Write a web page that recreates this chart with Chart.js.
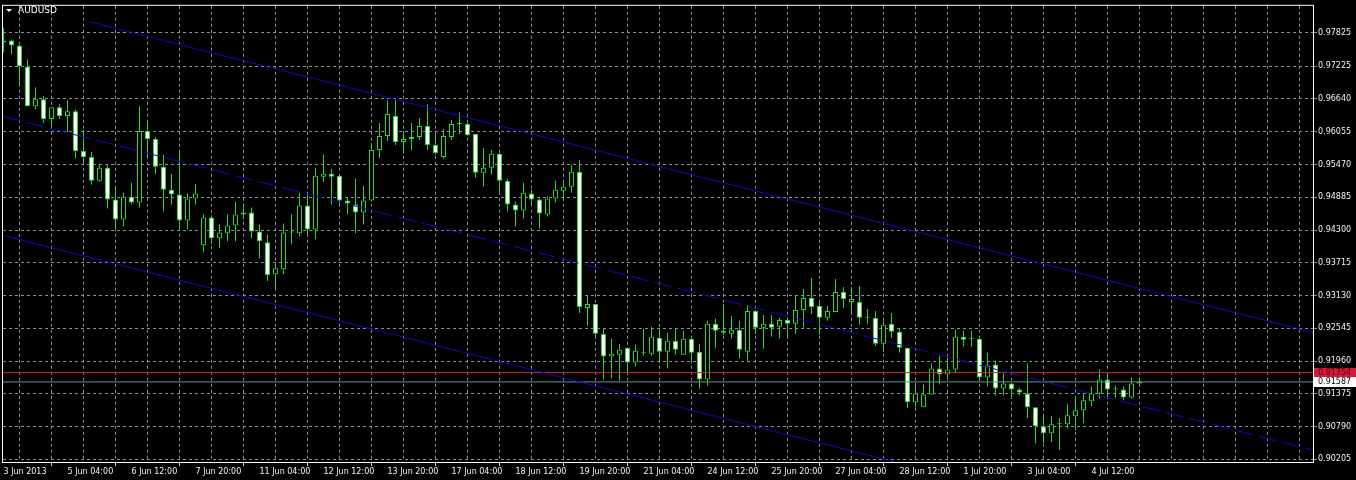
<!DOCTYPE html>
<html>
<head>
<meta charset="utf-8">
<title>AUDUSD H4</title>
<script src="https://cdn.jsdelivr.net/npm/chart.js@4.4.1/dist/chart.umd.min.js"></script>
<style>
  html, body { margin: 0; padding: 0; background: #000; }
  #wrap { width: 1356px; height: 480px; position: relative; }
</style>
</head>
<body>
<div id="wrap"><canvas id="chart" aria-label="AUDUSD H4 candlestick chart"></canvas></div>
<script>
'use strict';

// ─────────────────────────────────────────────────────────────
// 1. Data  (AUDUSD, H4 bars, 3 Jun 2013 20:00 → 5 Jul 2013 12:00)
// ─────────────────────────────────────────────────────────────

const SYMBOL = 'AUDUSD';

const opens = [
  0.97683, 0.97683, 0.97594, 0.97222, 0.96512, 0.96636, 0.96281, 0.96494, 0.96334, 0.96423,
  0.95713, 0.95606, 0.95180, 0.95411, 0.94843, 0.94488, 0.94896, 0.94790, 0.96070, 0.95926,
  0.95429, 0.95021, 0.94932, 0.94470, 0.94861, 0.94027, 0.94524, 0.94151, 0.94240, 0.94382,
  0.94577, 0.94612, 0.94275, 0.94080, 0.93512, 0.93600, 0.94257, 0.94240, 0.94737, 0.94311,
  0.95251, 0.95305, 0.95269, 0.94825, 0.94754, 0.94612, 0.94825, 0.95731, 0.95979, 0.96334,
  0.95873, 0.95926, 0.95961, 0.96157, 0.95819, 0.95606, 0.95961, 0.96192, 0.96192, 0.96015,
  0.95322, 0.95411, 0.95660, 0.95180, 0.94754, 0.94648, 0.94950, 0.94843, 0.94577, 0.94861,
  0.95003, 0.95074, 0.95340, 0.92908, 0.92979, 0.92447, 0.92039, 0.92074, 0.92198, 0.91932,
  0.92110, 0.92092, 0.92376, 0.92127, 0.92323, 0.92074, 0.92358, 0.92127, 0.91630, 0.92624,
  0.92500, 0.92447, 0.92518, 0.92127, 0.92855, 0.92553, 0.92624, 0.92571, 0.92695, 0.92624,
  0.92873, 0.93086, 0.92944, 0.92731, 0.92837, 0.93192, 0.93015, 0.93015, 0.92731, 0.92731,
  0.92269, 0.92624, 0.92482, 0.92198, 0.91222, 0.91133, 0.91364, 0.91826, 0.91719, 0.91808,
  0.92394, 0.92358, 0.92358, 0.91666, 0.91897, 0.91471, 0.91559, 0.91453, 0.91382, 0.91133,
  0.90796, 0.90672, 0.90832, 0.90832, 0.90974, 0.91080, 0.91240, 0.91382, 0.91630, 0.91453,
  0.91453, 0.91311, 0.91559,
];

const highs = [
  0.97914, 0.97701, 0.97594, 0.97346, 0.96849, 0.96689, 0.96494, 0.96547, 0.96618, 0.96458,
  0.96088, 0.95695, 0.95464, 0.95464, 0.95056, 0.94967, 0.95145, 0.96512, 0.96228, 0.95961,
  0.95642, 0.95305, 0.95731, 0.94950, 0.95127, 0.94577, 0.94559, 0.94399, 0.94577, 0.94808,
  0.94772, 0.94701, 0.94399, 0.94222, 0.93707, 0.94417, 0.94577, 0.94967, 0.94950, 0.95411,
  0.95642, 0.95393, 0.95287, 0.94896, 0.95216, 0.95092, 0.95855, 0.96210, 0.96618, 0.96618,
  0.96070, 0.96210, 0.96298, 0.96547, 0.96015, 0.96106, 0.96263, 0.96405, 0.96210, 0.96015,
  0.95766, 0.95731, 0.95677, 0.95216, 0.94808, 0.95145, 0.95021, 0.94896, 0.94896, 0.95180,
  0.95145, 0.95464, 0.95553, 0.93139, 0.92979, 0.92536, 0.92358, 0.92269, 0.92198, 0.92252,
  0.92536, 0.92571, 0.92553, 0.92465, 0.92553, 0.92500, 0.92411, 0.92269, 0.92678, 0.92713,
  0.92979, 0.92766, 0.92678, 0.92961, 0.92873, 0.92784, 0.92784, 0.92731, 0.92731, 0.93121,
  0.93245, 0.93441, 0.92997, 0.92944, 0.93423, 0.93281, 0.93281, 0.93299, 0.92890, 0.92855,
  0.92678, 0.92819, 0.92553, 0.92198, 0.91577, 0.91542, 0.91914, 0.92056, 0.92021, 0.92518,
  0.92500, 0.92500, 0.92411, 0.92110, 0.91968, 0.91737, 0.91559, 0.91488, 0.91914, 0.91133,
  0.90991, 0.90974, 0.90938, 0.91187, 0.91311, 0.91382, 0.91506, 0.91808, 0.91737, 0.91524,
  0.91506, 0.91666, 0.91666,
];

const lows = [
  0.97470, 0.97435, 0.96884, 0.96512, 0.96458, 0.96210, 0.96106, 0.96281, 0.96050, 0.95571,
  0.95500, 0.95109, 0.95163, 0.94683, 0.94328, 0.94364, 0.94754, 0.94701, 0.95606, 0.95305,
  0.94630, 0.94754, 0.94293, 0.94311, 0.94754, 0.93902, 0.94044, 0.93973, 0.94098, 0.94098,
  0.94488, 0.94151, 0.93796, 0.93388, 0.93245, 0.93512, 0.94044, 0.94186, 0.94222, 0.94133,
  0.95163, 0.94754, 0.94754, 0.94577, 0.94240, 0.94399, 0.94808, 0.95589, 0.95890, 0.95819,
  0.95660, 0.95731, 0.95908, 0.95731, 0.95642, 0.95571, 0.95908, 0.96015, 0.95979, 0.95234,
  0.95074, 0.95287, 0.94985, 0.94630, 0.94364, 0.94506, 0.94737, 0.94328, 0.94541, 0.94790,
  0.94825, 0.94967, 0.92819, 0.92589, 0.92376, 0.91630, 0.91648, 0.91613, 0.91719, 0.91861,
  0.92056, 0.92056, 0.91932, 0.91826, 0.92074, 0.92074, 0.91914, 0.91471, 0.91524, 0.92198,
  0.92429, 0.92358, 0.92003, 0.91950, 0.92447, 0.92181, 0.92394, 0.92358, 0.92376, 0.92447,
  0.92553, 0.92802, 0.92429, 0.92678, 0.92837, 0.92908, 0.92784, 0.92607, 0.92624, 0.92234,
  0.92127, 0.92376, 0.92110, 0.91116, 0.91133, 0.91133, 0.91364, 0.91542, 0.91666, 0.91755,
  0.92216, 0.92216, 0.91613, 0.91506, 0.91346, 0.91346, 0.91293, 0.91346, 0.90938, 0.90494,
  0.90494, 0.90512, 0.90370, 0.90761, 0.90725, 0.90849, 0.91151, 0.91293, 0.91311, 0.91311,
  0.91258, 0.91293, 0.91559,
];

const closes = [
  0.97648, 0.97594, 0.97222, 0.96512, 0.96636, 0.96281, 0.96494, 0.96334, 0.96423, 0.95713,
  0.95606, 0.95180, 0.95411, 0.94843, 0.94488, 0.94896, 0.94790, 0.96070, 0.95926, 0.95429,
  0.95021, 0.94932, 0.94470, 0.94861, 0.94950, 0.94524, 0.94151, 0.94257, 0.94382, 0.94577,
  0.94612, 0.94275, 0.94098, 0.93494, 0.93618, 0.94257, 0.94266, 0.94737, 0.94311, 0.95269,
  0.95305, 0.95251, 0.94825, 0.94772, 0.94612, 0.94825, 0.95731, 0.95979, 0.96370, 0.95873,
  0.95926, 0.95961, 0.96157, 0.95819, 0.95677, 0.95979, 0.96192, 0.96201, 0.95997, 0.95322,
  0.95411, 0.95660, 0.95180, 0.94754, 0.94648, 0.94967, 0.94843, 0.94595, 0.94861, 0.95021,
  0.95074, 0.95340, 0.92926, 0.92979, 0.92447, 0.92039, 0.92092, 0.92163, 0.91932, 0.92145,
  0.92118, 0.92394, 0.92127, 0.92323, 0.92163, 0.92358, 0.92110, 0.91630, 0.92624, 0.92500,
  0.92465, 0.92518, 0.92163, 0.92855, 0.92553, 0.92624, 0.92553, 0.92695, 0.92624, 0.92873,
  0.93086, 0.92926, 0.92731, 0.92855, 0.93192, 0.93068, 0.93068, 0.92731, 0.92740, 0.92269,
  0.92607, 0.92482, 0.92198, 0.91222, 0.91382, 0.91364, 0.91826, 0.91719, 0.91808, 0.92394,
  0.92340, 0.92367, 0.91666, 0.91879, 0.91471, 0.91559, 0.91453, 0.91400, 0.91133, 0.90796,
  0.90672, 0.90832, 0.90840, 0.90991, 0.91080, 0.91258, 0.91382, 0.91630, 0.91453, 0.91462,
  0.91311, 0.91559, 0.91595,
];

// one label every 8 bars, starting at bar 0
const xTickLabels = [
  '3 Jun 2013', '5 Jun 04:00', '6 Jun 12:00', '7 Jun 20:00', '11 Jun 04:00', '12 Jun 12:00',
  '13 Jun 20:00', '17 Jun 04:00', '18 Jun 12:00', '19 Jun 20:00', '21 Jun 04:00', '24 Jun 12:00',
  '25 Jun 20:00', '27 Jun 04:00', '28 Jun 12:00', '1 Jul 20:00', '3 Jul 04:00', '4 Jul 12:00',
];

const yTickValues = [
  0.97825, 0.97225, 0.96640, 0.96055, 0.95470, 0.94885, 0.94300,
  0.93715, 0.93130, 0.92545, 0.91960, 0.91375, 0.90790, 0.90205,
];

// horizontal levels: a drawn line and the bid
const levelPrice = 0.91754;
const bidPrice   = 0.91587;

// channel anchors as [bar index, price]
const channelUpper  = [[10.75, 0.98020], [163.69, 0.92470]];
const channelMiddle = [[-0.06, 0.96329], [163.69, 0.90370]];
const channelLower  = [[-0.06, 0.94204], [163.69, 0.88262]];

// ─────────────────────────────────────────────────────────────
// 2. Constants
// ─────────────────────────────────────────────────────────────

const X_MIN = -0.0625;
const X_MAX = 163.6875;   // 8 px per bar over the 1310 px plot
const Y_MIN = 0.90157;
const Y_MAX = 0.98304;

const BARS_PER_GRID  = 4;
const BARS_PER_LABEL = 8;

const CANDLE_LINE = '#22dd22';
const BULL_FILL   = '#000000';
const BEAR_FILL   = '#ffffff';
const GRID_COLOR  = '#8a8f96';
const GRID_DASH   = [3, 3];
const TEXT_COLOR  = '#f2f2f2';
const FRAME_COLOR = '#ffffff';
const CHANNEL     = '#0a0ac8';
const LEVEL_COLOR = '#d02828';
const BID_COLOR   = '#778899';
const FONT        = 'DejaVu Sans';

Chart.defaults.font.family = FONT;
Chart.defaults.font.size   = 8;

// ─────────────────────────────────────────────────────────────
// 3. Plugins (frame, symbol caption, price tags)
// ─────────────────────────────────────────────────────────────

function _priceTag(chart, value, bg, fg) {
  const { ctx, chartArea: a, scales: { y } } = chart;
  const py = Math.round(y.getPixelForValue(value));
  ctx.fillStyle = bg;
  ctx.fillRect(a.right + 1, py - 5, chart.width - a.right - 1, 10);
  ctx.fillStyle = fg;
  ctx.font = `8px "${FONT}"`;
  ctx.textAlign = 'left';
  ctx.textBaseline = 'middle';
  ctx.fillText(value.toFixed(5), a.right + 5, py);
}

const mtDecor = {
  id: 'mtDecor',
  afterDraw(chart) {
    const { ctx, chartArea: a } = chart;
    ctx.save();

    ctx.strokeStyle = FRAME_COLOR;
    ctx.lineWidth = 1;
    ctx.strokeRect(a.left - 0.5, a.top - 0.5, a.right - a.left + 1, a.bottom - a.top + 1);

    // symbol caption, top-left
    ctx.fillStyle = FRAME_COLOR;
    ctx.beginPath();
    ctx.moveTo(6, 9); ctx.lineTo(12, 9); ctx.lineTo(9, 12);
    ctx.closePath();
    ctx.fill();
    ctx.font = `9px "${FONT}"`;
    ctx.textBaseline = 'middle';
    ctx.fillText(SYMBOL, 18, 10.5);

    _priceTag(chart, levelPrice, '#d8173c', '#4a0000');
    _priceTag(chart, bidPrice, '#ffffff', '#000000');
    ctx.restore();
  },
};

// ─────────────────────────────────────────────────────────────
// 4. Datasets
// ─────────────────────────────────────────────────────────────

const bodies = opens.map((o, i) => ({ x: i, y: [o, closes[i]] }));
const wicks  = lows.map((l, i) => ({ x: i, y: [l, highs[i]] }));
const bodyFill = opens.map((o, i) => {
  if (Math.abs(closes[i] - o) < 0.0003) return CANDLE_LINE;   // doji: a plain dash
  return closes[i] >= o ? BULL_FILL : BEAR_FILL;
});

function _line(points, color, dash) {
  return {
    type: 'line',
    data: points.map(([x, y]) => ({ x, y })),
    borderColor: color,
    borderWidth: 1,
    borderDash: dash || [],
    pointRadius: 0,
    tension: 0,
    order: -1,
  };
}

const flatLine = (price) => [[X_MIN, price], [X_MAX, price]];

const datasets = [
  {
    label: 'wicks',
    data: wicks,
    backgroundColor: CANDLE_LINE,
    barThickness: 1,
    grouped: false,
    inflateAmount: 0,
    borderWidth: 0,
    order: 2,
  },
  {
    label: 'bodies',
    data: bodies,
    backgroundColor: bodyFill,
    borderColor: CANDLE_LINE,
    borderWidth: 1,
    borderSkipped: false,
    barThickness: 5,
    minBarLength: 1,
    grouped: false,
    inflateAmount: 0,
    order: 1,
  },
  _line(channelUpper, CHANNEL),
  _line(channelMiddle, CHANNEL, [18, 6]),
  _line(channelLower, CHANNEL),
  _line(flatLine(levelPrice), LEVEL_COLOR),
  _line(flatLine(bidPrice), BID_COLOR),
];

// ─────────────────────────────────────────────────────────────
// 5. Chart
// ─────────────────────────────────────────────────────────────

const gridBars = [];
for (let b = 0; b <= X_MAX; b += BARS_PER_GRID) gridBars.push(b);

function _labelFor(value) {
  if (value % BARS_PER_LABEL !== 0) return '';
  return xTickLabels[value / BARS_PER_LABEL] ?? '';
}

new Chart(document.getElementById('chart'), {
  type: 'bar',
  data: { datasets },
  plugins: [mtDecor],
  options: {
    responsive: true,
    maintainAspectRatio: false,
    animation: false,
    events: [],
    layout: { padding: { left: 3, top: 3, right: 0, bottom: 0 } },
    plugins: {
      legend:  { display: false },
      tooltip: { enabled: false },
      title:   { display: false },
    },
    scales: {
      x: {
        type: 'linear',
        min: X_MIN,
        max: X_MAX,
        offset: false,
        bounds: 'data',
        afterBuildTicks: s => { s.ticks = gridBars.map(v => ({ value: v })); },
        afterFit: s => { s.height = 18; },
        grid: {
          color: GRID_COLOR,
          lineWidth: 1,
          drawTicks: true,
          tickLength: 4,
          tickWidth: 1,
          tickColor: c => (c.tick && _labelFor(c.tick.value) ? '#d0d0d0' : 'rgba(0,0,0,0)'),
        },
        border: { display: false, dash: GRID_DASH },
        ticks: {
          autoSkip: false,
          maxRotation: 0,
          minRotation: 0,
          align: 'start',
          padding: 1,
          color: TEXT_COLOR,
          font: { size: 8 },
          callback: v => _labelFor(v),
        },
      },
      y: {
        position: 'right',
        min: Y_MIN,
        max: Y_MAX,
        bounds: 'data',
        afterBuildTicks: s => { s.ticks = yTickValues.map(v => ({ value: v })); },
        afterFit: s => { s.width = 43; },
        grid: { color: GRID_COLOR, lineWidth: 1, tickLength: 4, tickColor: GRID_COLOR },
        border: { display: false, dash: GRID_DASH },
        ticks: {
          color: TEXT_COLOR,
          padding: 1,
          crossAlign: 'near',
          font: { size: 8 },
          callback: v => Number(v).toFixed(5),
        },
      },
    },
  },
});
</script>
</body>
</html>
